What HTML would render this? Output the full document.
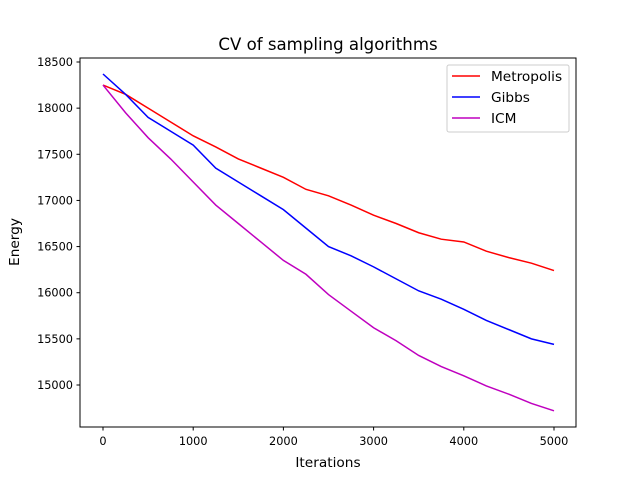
<!DOCTYPE html>
<html><head><meta charset="utf-8">
<style>body{margin:0;background:#fff}svg{display:block;font-family:"DejaVu Sans","Liberation Sans",sans-serif}</style>
</head><body>
<svg id="chart" width="640" height="480">
<rect x="0" y="0" width="640" height="480" fill="#fff"/>
<text x="328" y="50" font-size="16.6" text-anchor="middle">CV of sampling algorithms</text>
<text x="328" y="467" font-size="13.7" text-anchor="middle">Iterations</text>
<text x="19" y="242" font-size="13.7" text-anchor="middle" transform="rotate(-90 19 242)">Energy</text>
<g id="series"></g>
<g id="axes"></g>
<rect x="80" y="58" width="496" height="369" fill="none" stroke="#000" stroke-width="1"/>
<g>
<rect x="447" y="65" width="122" height="67" fill="#fff" stroke="#ccc" rx="2"/>
<line x1="452" y1="76" x2="480" y2="76" stroke="red" stroke-width="1.5"/>
<text x="491" y="81" font-size="13.7">Metropolis</text>
<line x1="452" y1="97" x2="480" y2="97" stroke="blue" stroke-width="1.5"/>
<text x="491" y="102" font-size="13.7">Gibbs</text>
<line x1="452" y1="118" x2="480" y2="118" stroke="#bf00bf" stroke-width="1.5"/>
<text x="491" y="123" font-size="13.7">ICM</text>
</g>
</svg>
<script>
const iterations=[0,250,500,750,1000,1250,1500,1750,2000,2250,2500,2750,3000,3250,3500,3750,4000,4250,4500,4750,5000];
const metropolis=[18250,18150,18000,17850,17700,17580,17450,17350,17250,17120,17050,16950,16840,16750,16650,16580,16550,16450,16380,16320,16240];
const gibbs=[18370,18150,17900,17750,17600,17350,17200,17050,16900,16700,16500,16400,16280,16150,16020,15930,15820,15700,15600,15500,15440];
const icm=[18250,17950,17680,17450,17200,16950,16750,16550,16350,16200,15980,15800,15620,15480,15320,15200,15100,14990,14900,14800,14720];
const xTicks=[0,1000,2000,3000,4000,5000];
const yTicks=[15000,15500,16000,16500,17000,17500,18000,18500];
const NS='http://www.w3.org/2000/svg';
function xs(v){return 103+(v/5000)*451;}
function ys(v){return 385-(v-15000)*(323/3500);}
const sg=document.getElementById('series'),ag=document.getElementById('axes');
function mk(t,a,p){const e=document.createElementNS(NS,t);for(const k in a)e.setAttribute(k,a[k]);p.appendChild(e);return e;}
[[metropolis,'red','line-metropolis'],[gibbs,'blue','line-gibbs'],[icm,'#bf00bf','line-icm']].forEach(([d,c,n])=>{
 const pl=mk('polyline',{points:d.map((v,i)=>xs(iterations[i])+','+ys(v)).join(' '),fill:'none',stroke:c,'stroke-width':1.5},sg);
 
 
});
xTicks.forEach(t=>{
 mk('line',{x1:xs(t),x2:xs(t),y1:427,y2:430.5,stroke:'#000'},ag);
 const tx=mk('text',{x:xs(t),y:445,'font-size':11.3,'text-anchor':'middle'},ag);tx.textContent=t;
 
 
});
yTicks.forEach(t=>{
 mk('line',{x1:76.5,x2:80,y1:ys(t),y2:ys(t),stroke:'#000'},ag);
 const tx=mk('text',{x:73,y:ys(t)+4,'font-size':11.3,'text-anchor':'end'},ag);tx.textContent=t;
 
 
});
</script>
</body></html>
